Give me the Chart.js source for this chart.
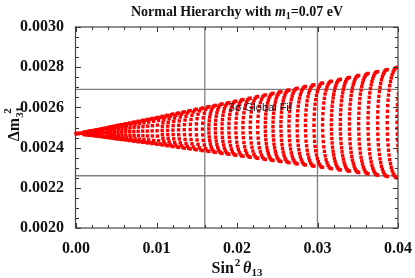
<!DOCTYPE html>
<html><head><meta charset="utf-8">
<script src="https://cdn.jsdelivr.net/npm/chart.js@4.4.1/dist/chart.umd.min.js"></script>
<style>html,body{margin:0;padding:0;background:#fff;overflow:hidden}canvas{display:block}</style>
</head><body>
<canvas id="c" width="415" height="278"></canvas>
<script>
// ---- data ----
const xTicks = [0, 0.01, 0.02, 0.03, 0.04];
const yTicks = [0.0020, 0.0022, 0.0024, 0.0026, 0.0028, 0.0030];
const globalFitSin2 = [0.016, 0.030];      // 3 sigma bounds on sin^2(theta13)
const globalFitDm2 = [0.00226, 0.00269];   // 3 sigma bounds on Delta m^2_31
const fitLabel = "3σ Global Fit";
const fitLabelAt = [0.0229, 0.002597];
// scan points [sin^2 theta13, Delta m^2_31 (eV^2)], grouped by arc
const scanPoints = [
[0,0.002470],[0.00009,0.002470],[0.00016,0.002470],[0.00025,0.002470],[0.00036,0.002470],[0.00048,0.002471],[0.00063,0.002471],
[0.00099,0.002477],[0.00080,0.002471],[0.00099,0.002465],
[0.00119,0.002478],[0.00099,0.002471],[0.00119,0.002464],
[0.00142,0.002480],[0.00119,0.002472],[0.00142,0.002463],
[0.00167,0.002482],[0.00149,0.002479],[0.00142,0.002472],[0.00149,0.002465],[0.00167,0.002462],
[0.00193,0.002484],[0.00175,0.002481],[0.00167,0.002472],[0.00175,0.002464],[0.00193,0.002461],
[0.00222,0.002486],[0.00202,0.002482],[0.00193,0.002473],[0.00202,0.002463],[0.00222,0.002459],
[0.00252,0.002489],[0.00231,0.002484],[0.00222,0.002473],[0.00231,0.002462],[0.00252,0.002457],
[0.00285,0.002491],[0.00262,0.002486],[0.00253,0.002474],[0.00262,0.002461],[0.00285,0.002456],
[0.00320,0.002494],[0.00295,0.002488],[0.00285,0.002474],[0.00295,0.002460],[0.00320,0.002454],
[0.00356,0.002497],[0.00330,0.002491],[0.00319,0.002475],[0.00330,0.002458],[0.00356,0.002452],
[0.00394,0.002500],[0.00367,0.002493],[0.00356,0.002475],[0.00367,0.002457],[0.00394,0.002450],
[0.00435,0.002504],[0.00419,0.002501],[0.00406,0.002495],[0.00397,0.002486],[0.00394,0.002476],[0.00397,0.002465],[0.00406,0.002456],[0.00419,0.002450],[0.00435,0.002448],
[0.00477,0.002507],[0.00461,0.002505],[0.00447,0.002498],[0.00438,0.002488],[0.00435,0.002476],[0.00438,0.002464],[0.00447,0.002454],[0.00461,0.002448],[0.00477,0.002445],
[0.00521,0.002511],[0.00504,0.002508],[0.00490,0.002501],[0.00480,0.002490],[0.00477,0.002477],[0.00480,0.002464],[0.00490,0.002453],[0.00504,0.002445],[0.00521,0.002443],
[0.00567,0.002514],[0.00550,0.002512],[0.00535,0.002504],[0.00525,0.002492],[0.00521,0.002477],[0.00525,0.002463],[0.00535,0.002451],[0.00550,0.002443],[0.00567,0.002440],
[0.00616,0.002518],[0.00597,0.002515],[0.00582,0.002506],[0.00571,0.002493],[0.00567,0.002478],[0.00571,0.002463],[0.00582,0.002449],[0.00597,0.002441],[0.00616,0.002438],
[0.00666,0.002522],[0.00647,0.002519],[0.00630,0.002510],[0.00619,0.002495],[0.00616,0.002479],[0.00619,0.002462],[0.00630,0.002448],[0.00647,0.002438],[0.00666,0.002435],
[0.00718,0.002527],[0.00698,0.002523],[0.00681,0.002513],[0.00670,0.002497],[0.00666,0.002479],[0.00670,0.002461],[0.00681,0.002446],[0.00698,0.002436],[0.00718,0.002432],
[0.00772,0.002531],[0.00751,0.002527],[0.00734,0.002516],[0.00722,0.002500],[0.00718,0.002480],[0.00722,0.002461],[0.00734,0.002444],[0.00751,0.002433],[0.00772,0.002429],
[0.00828,0.002536],[0.00806,0.002531],[0.00788,0.002520],[0.00776,0.002502],[0.00772,0.002481],[0.00776,0.002460],[0.00788,0.002442],[0.00806,0.002430],[0.00828,0.002426],
[0.00886,0.002540],[0.00863,0.002536],[0.00845,0.002523],[0.00832,0.002504],[0.00828,0.002482],[0.00832,0.002459],[0.00845,0.002440],[0.00863,0.002427],[0.00886,0.002423],
[0.00945,0.002545],[0.00923,0.002541],[0.00903,0.002527],[0.00890,0.002507],[0.00886,0.002482],[0.00890,0.002458],[0.00903,0.002438],[0.00923,0.002424],[0.00945,0.002420],
[0.01007,0.002550],[0.00984,0.002545],[0.00964,0.002531],[0.00950,0.002509],[0.00946,0.002483],[0.00950,0.002458],[0.00964,0.002436],[0.00984,0.002421],[0.01007,0.002416],
[0.01071,0.002556],[0.01047,0.002550],[0.01026,0.002535],[0.01012,0.002512],[0.01007,0.002484],[0.01012,0.002457],[0.01026,0.002434],[0.01047,0.002418],[0.01071,0.002413],
[0.01137,0.002561],[0.01120,0.002558],[0.01104,0.002551],[0.01090,0.002539],[0.01080,0.002523],[0.01073,0.002505],[0.01071,0.002485],[0.01073,0.002465],[0.01080,0.002447],[0.01090,0.002431],[0.01104,0.002419],[0.01120,0.002412],[0.01137,0.002409],
[0.01204,0.002567],[0.01187,0.002564],[0.01170,0.002556],[0.01156,0.002543],[0.01146,0.002526],[0.01139,0.002507],[0.01137,0.002486],[0.01139,0.002465],[0.01146,0.002446],[0.01156,0.002429],[0.01170,0.002416],[0.01187,0.002408],[0.01204,0.002405],
[0.01274,0.002572],[0.01256,0.002570],[0.01239,0.002561],[0.01225,0.002547],[0.01214,0.002530],[0.01207,0.002509],[0.01204,0.002487],[0.01207,0.002465],[0.01214,0.002444],[0.01225,0.002426],[0.01239,0.002413],[0.01256,0.002404],[0.01274,0.002401],
[0.01345,0.002578],[0.01327,0.002575],[0.01309,0.002566],[0.01295,0.002552],[0.01283,0.002533],[0.01276,0.002511],[0.01274,0.002488],[0.01276,0.002464],[0.01283,0.002443],[0.01295,0.002424],[0.01309,0.002410],[0.01327,0.002401],[0.01345,0.002397],
[0.01418,0.002584],[0.01399,0.002581],[0.01382,0.002572],[0.01367,0.002556],[0.01355,0.002537],[0.01348,0.002514],[0.01345,0.002489],[0.01348,0.002464],[0.01355,0.002441],[0.01367,0.002421],[0.01382,0.002406],[0.01399,0.002397],[0.01418,0.002393],
[0.01494,0.002591],[0.01474,0.002587],[0.01456,0.002577],[0.01441,0.002561],[0.01429,0.002540],[0.01421,0.002516],[0.01418,0.002490],[0.01421,0.002464],[0.01429,0.002440],[0.01441,0.002419],[0.01456,0.002403],[0.01474,0.002393],[0.01494,0.002389],
[0.01571,0.002597],[0.01551,0.002593],[0.01532,0.002583],[0.01516,0.002566],[0.01504,0.002544],[0.01496,0.002518],[0.01494,0.002491],[0.01496,0.002463],[0.01504,0.002438],[0.01516,0.002416],[0.01532,0.002399],[0.01551,0.002388],[0.01571,0.002385],
[0.01650,0.002604],[0.01629,0.002600],[0.01610,0.002589],[0.01594,0.002571],[0.01581,0.002548],[0.01574,0.002521],[0.01571,0.002492],[0.01574,0.002463],[0.01581,0.002436],[0.01594,0.002413],[0.01610,0.002395],[0.01629,0.002384],[0.01650,0.002381],
[0.01731,0.002610],[0.01717,0.002608],[0.01703,0.002603],[0.01690,0.002595],[0.01679,0.002583],[0.01669,0.002568],[0.01661,0.002552],[0.01655,0.002533],[0.01651,0.002513],[0.01650,0.002493],[0.01651,0.002473],[0.01655,0.002453],[0.01661,0.002435],[0.01669,0.002418],[0.01679,0.002403],[0.01690,0.002392],[0.01703,0.002383],[0.01717,0.002378],[0.01731,0.002376],
[0.01814,0.002617],[0.01799,0.002615],[0.01785,0.002610],[0.01772,0.002601],[0.01761,0.002588],[0.01750,0.002573],[0.01742,0.002556],[0.01736,0.002536],[0.01732,0.002516],[0.01731,0.002494],[0.01732,0.002473],[0.01736,0.002452],[0.01742,0.002433],[0.01750,0.002415],[0.01761,0.002400],[0.01772,0.002388],[0.01785,0.002379],[0.01799,0.002373],[0.01814,0.002371],
[0.01899,0.002624],[0.01884,0.002622],[0.01870,0.002616],[0.01856,0.002607],[0.01844,0.002594],[0.01834,0.002578],[0.01825,0.002560],[0.01819,0.002539],[0.01815,0.002518],[0.01814,0.002495],[0.01815,0.002473],[0.01819,0.002451],[0.01825,0.002431],[0.01834,0.002413],[0.01844,0.002397],[0.01856,0.002384],[0.01870,0.002374],[0.01884,0.002369],[0.01899,0.002367],
[0.01985,0.002631],[0.01970,0.002629],[0.01956,0.002623],[0.01942,0.002613],[0.01930,0.002600],[0.01919,0.002583],[0.01910,0.002564],[0.01904,0.002543],[0.01900,0.002520],[0.01899,0.002497],[0.01900,0.002473],[0.01904,0.002451],[0.01910,0.002429],[0.01919,0.002410],[0.01930,0.002393],[0.01942,0.002380],[0.01956,0.002370],[0.01970,0.002364],[0.01985,0.002362],
[0.02074,0.002639],[0.02059,0.002637],[0.02044,0.002630],[0.02030,0.002620],[0.02017,0.002606],[0.02006,0.002588],[0.01997,0.002568],[0.01991,0.002546],[0.01987,0.002522],[0.01985,0.002498],[0.01987,0.002473],[0.01991,0.002450],[0.01997,0.002427],[0.02006,0.002407],[0.02017,0.002390],[0.02030,0.002376],[0.02044,0.002365],[0.02059,0.002359],[0.02074,0.002357],
[0.02164,0.002646],[0.02149,0.002644],[0.02133,0.002637],[0.02119,0.002627],[0.02106,0.002612],[0.02095,0.002594],[0.02086,0.002573],[0.02079,0.002549],[0.02075,0.002525],[0.02074,0.002499],[0.02075,0.002473],[0.02079,0.002449],[0.02086,0.002425],[0.02095,0.002404],[0.02106,0.002386],[0.02119,0.002372],[0.02133,0.002361],[0.02149,0.002354],[0.02164,0.002352],
[0.02257,0.002654],[0.02241,0.002652],[0.02225,0.002645],[0.02211,0.002633],[0.02197,0.002618],[0.02186,0.002599],[0.02177,0.002577],[0.02170,0.002553],[0.02166,0.002527],[0.02164,0.002500],[0.02166,0.002474],[0.02170,0.002448],[0.02177,0.002423],[0.02186,0.002402],[0.02197,0.002383],[0.02211,0.002367],[0.02225,0.002356],[0.02241,0.002349],[0.02257,0.002347],
[0.02351,0.002662],[0.02335,0.002659],[0.02319,0.002652],[0.02304,0.002640],[0.02290,0.002624],[0.02279,0.002605],[0.02269,0.002582],[0.02263,0.002556],[0.02258,0.002529],[0.02257,0.002502],[0.02258,0.002474],[0.02263,0.002447],[0.02269,0.002422],[0.02279,0.002399],[0.02290,0.002379],[0.02304,0.002363],[0.02319,0.002351],[0.02335,0.002344],[0.02351,0.002341],
[0.02447,0.002670],[0.02435,0.002668],[0.02422,0.002664],[0.02410,0.002657],[0.02399,0.002647],[0.02389,0.002635],[0.02379,0.002621],[0.02371,0.002605],[0.02364,0.002586],[0.02358,0.002567],[0.02354,0.002546],[0.02352,0.002525],[0.02351,0.002503],[0.02352,0.002481],[0.02354,0.002460],[0.02358,0.002439],[0.02364,0.002419],[0.02371,0.002401],[0.02379,0.002385],[0.02389,0.002371],[0.02399,0.002358],[0.02410,0.002349],[0.02422,0.002342],[0.02435,0.002337],[0.02447,0.002336],
[0.02545,0.002678],[0.02532,0.002677],[0.02520,0.002672],[0.02508,0.002665],[0.02496,0.002655],[0.02485,0.002642],[0.02476,0.002627],[0.02467,0.002610],[0.02460,0.002591],[0.02455,0.002571],[0.02450,0.002549],[0.02448,0.002527],[0.02447,0.002504],[0.02448,0.002482],[0.02450,0.002459],[0.02455,0.002438],[0.02460,0.002417],[0.02467,0.002399],[0.02476,0.002382],[0.02485,0.002367],[0.02496,0.002354],[0.02508,0.002344],[0.02520,0.002337],[0.02532,0.002332],[0.02545,0.002331],
[0.02645,0.002686],[0.02632,0.002685],[0.02619,0.002680],[0.02607,0.002673],[0.02595,0.002662],[0.02584,0.002649],[0.02574,0.002633],[0.02566,0.002616],[0.02559,0.002596],[0.02553,0.002575],[0.02549,0.002552],[0.02546,0.002529],[0.02545,0.002506],[0.02546,0.002482],[0.02549,0.002459],[0.02553,0.002436],[0.02559,0.002415],[0.02566,0.002396],[0.02574,0.002378],[0.02584,0.002362],[0.02595,0.002349],[0.02607,0.002339],[0.02619,0.002331],[0.02632,0.002327],[0.02645,0.002325],
[0.02747,0.002695],[0.02734,0.002693],[0.02721,0.002688],[0.02708,0.002681],[0.02696,0.002670],[0.02685,0.002656],[0.02675,0.002640],[0.02666,0.002621],[0.02659,0.002601],[0.02653,0.002579],[0.02649,0.002556],[0.02646,0.002532],[0.02645,0.002507],[0.02646,0.002483],[0.02649,0.002458],[0.02653,0.002435],[0.02659,0.002413],[0.02666,0.002393],[0.02675,0.002374],[0.02685,0.002358],[0.02696,0.002344],[0.02708,0.002334],[0.02721,0.002326],[0.02734,0.002321],[0.02747,0.002319],
[0.02850,0.002704],[0.02837,0.002702],[0.02824,0.002697],[0.02811,0.002689],[0.02799,0.002677],[0.02787,0.002663],[0.02777,0.002646],[0.02768,0.002627],[0.02761,0.002606],[0.02755,0.002583],[0.02750,0.002559],[0.02748,0.002534],[0.02747,0.002509],[0.02748,0.002483],[0.02750,0.002458],[0.02755,0.002434],[0.02761,0.002411],[0.02768,0.002390],[0.02777,0.002371],[0.02787,0.002354],[0.02799,0.002340],[0.02811,0.002328],[0.02824,0.002320],[0.02837,0.002315],[0.02850,0.002314],
[0.02956,0.002712],[0.02942,0.002711],[0.02929,0.002705],[0.02916,0.002697],[0.02903,0.002685],[0.02892,0.002671],[0.02881,0.002653],[0.02872,0.002633],[0.02865,0.002611],[0.02858,0.002587],[0.02854,0.002562],[0.02851,0.002536],[0.02850,0.002510],[0.02851,0.002484],[0.02854,0.002458],[0.02858,0.002432],[0.02865,0.002409],[0.02872,0.002387],[0.02881,0.002367],[0.02892,0.002349],[0.02903,0.002335],[0.02916,0.002323],[0.02929,0.002314],[0.02942,0.002309],[0.02956,0.002308],
[0.03063,0.002721],[0.03049,0.002720],[0.03035,0.002714],[0.03022,0.002705],[0.03010,0.002693],[0.02998,0.002678],[0.02987,0.002660],[0.02978,0.002639],[0.02970,0.002616],[0.02964,0.002592],[0.02960,0.002566],[0.02957,0.002539],[0.02956,0.002511],[0.02957,0.002484],[0.02960,0.002457],[0.02964,0.002431],[0.02970,0.002406],[0.02978,0.002384],[0.02987,0.002363],[0.02998,0.002345],[0.03010,0.002330],[0.03022,0.002318],[0.03035,0.002309],[0.03049,0.002303],[0.03063,0.002302],
[0.03172,0.002730],[0.03158,0.002729],[0.03144,0.002723],[0.03131,0.002714],[0.03118,0.002701],[0.03106,0.002686],[0.03095,0.002667],[0.03086,0.002645],[0.03078,0.002622],[0.03072,0.002596],[0.03067,0.002569],[0.03064,0.002541],[0.03063,0.002513],[0.03064,0.002485],[0.03067,0.002457],[0.03072,0.002430],[0.03078,0.002404],[0.03086,0.002381],[0.03095,0.002359],[0.03106,0.002340],[0.03118,0.002325],[0.03131,0.002312],[0.03144,0.002303],[0.03158,0.002297],[0.03172,0.002295],
[0.03284,0.002740],[0.03272,0.002738],[0.03260,0.002735],[0.03249,0.002729],[0.03238,0.002720],[0.03228,0.002709],[0.03218,0.002697],[0.03209,0.002682],[0.03201,0.002665],[0.03194,0.002647],[0.03187,0.002627],[0.03182,0.002606],[0.03178,0.002584],[0.03175,0.002561],[0.03173,0.002538],[0.03172,0.002514],
[0.03173,0.002491],[0.03175,0.002468],[0.03178,0.002445],[0.03182,0.002423],[0.03187,0.002402],[0.03194,0.002382],[0.03201,0.002364],[0.03209,0.002347],[0.03218,0.002332],[0.03228,0.002319],[0.03238,0.002309],[0.03249,0.002300],[0.03260,0.002294],[0.03272,0.002290],[0.03284,0.002289],
[0.03396,0.002749],[0.03385,0.002748],[0.03373,0.002744],[0.03361,0.002738],[0.03350,0.002729],[0.03340,0.002718],[0.03330,0.002705],[0.03321,0.002689],[0.03313,0.002672],[0.03305,0.002653],[0.03299,0.002633],[0.03293,0.002611],[0.03289,0.002588],[0.03286,0.002565],[0.03284,0.002540],[0.03284,0.002516],
[0.03284,0.002492],[0.03286,0.002468],[0.03289,0.002444],[0.03293,0.002421],[0.03299,0.002399],[0.03305,0.002379],[0.03313,0.002360],[0.03321,0.002343],[0.03330,0.002327],[0.03340,0.002314],[0.03350,0.002303],[0.03361,0.002294],[0.03373,0.002288],[0.03385,0.002284],[0.03396,0.002283],
[0.03511,0.002759],[0.03499,0.002757],[0.03487,0.002753],[0.03476,0.002747],[0.03464,0.002738],[0.03454,0.002726],[0.03444,0.002713],[0.03434,0.002697],[0.03426,0.002679],[0.03418,0.002659],[0.03412,0.002638],[0.03406,0.002616],[0.03402,0.002592],[0.03399,0.002568],[0.03397,0.002543],[0.03396,0.002518],
[0.03397,0.002492],[0.03399,0.002467],[0.03402,0.002443],[0.03406,0.002419],[0.03412,0.002397],[0.03418,0.002376],[0.03426,0.002356],[0.03434,0.002338],[0.03444,0.002323],[0.03454,0.002309],[0.03464,0.002297],[0.03476,0.002288],[0.03487,0.002282],[0.03499,0.002278],[0.03511,0.002276],
[0.03628,0.002769],[0.03615,0.002767],[0.03603,0.002763],[0.03592,0.002756],[0.03580,0.002747],[0.03569,0.002735],[0.03559,0.002721],[0.03550,0.002705],[0.03541,0.002686],[0.03533,0.002666],[0.03527,0.002644],[0.03521,0.002621],[0.03517,0.002596],[0.03514,0.002571],[0.03512,0.002545],[0.03511,0.002519],
[0.03512,0.002493],[0.03514,0.002467],[0.03517,0.002442],[0.03521,0.002418],[0.03527,0.002395],[0.03533,0.002373],[0.03541,0.002352],[0.03550,0.002334],[0.03559,0.002318],[0.03569,0.002303],[0.03580,0.002292],[0.03592,0.002282],[0.03603,0.002275],[0.03615,0.002271],[0.03628,0.002270],
[0.03746,0.002778],[0.03734,0.002777],[0.03721,0.002773],[0.03709,0.002766],[0.03698,0.002756],[0.03687,0.002744],[0.03676,0.002729],[0.03667,0.002712],[0.03658,0.002693],[0.03650,0.002672],[0.03643,0.002650],[0.03638,0.002626],[0.03633,0.002600],[0.03630,0.002574],[0.03628,0.002548],[0.03628,0.002521],
[0.03628,0.002494],[0.03630,0.002467],[0.03633,0.002441],[0.03638,0.002416],[0.03643,0.002392],[0.03650,0.002369],[0.03658,0.002348],[0.03667,0.002329],[0.03676,0.002312],[0.03687,0.002298],[0.03698,0.002286],[0.03709,0.002276],[0.03721,0.002269],[0.03734,0.002265],[0.03746,0.002263],
[0.03866,0.002788],[0.03854,0.002787],[0.03841,0.002783],[0.03829,0.002775],[0.03817,0.002765],[0.03806,0.002753],[0.03795,0.002738],[0.03786,0.002720],[0.03777,0.002700],[0.03769,0.002679],[0.03762,0.002655],[0.03756,0.002631],[0.03752,0.002605],[0.03749,0.002578],[0.03747,0.002550],[0.03746,0.002522],
[0.03747,0.002495],[0.03749,0.002467],[0.03752,0.002440],[0.03756,0.002414],[0.03762,0.002389],[0.03769,0.002366],[0.03777,0.002344],[0.03786,0.002325],[0.03795,0.002307],[0.03806,0.002292],[0.03817,0.002279],[0.03829,0.002269],[0.03841,0.002262],[0.03854,0.002258],[0.03866,0.002256],
[0.03988,0.002799],[0.03975,0.002797],[0.03963,0.002793],[0.03950,0.002785],[0.03939,0.002775],[0.03927,0.002762],[0.03916,0.002746],[0.03907,0.002728],[0.03897,0.002708],[0.03889,0.002685],[0.03882,0.002661],[0.03877,0.002636],[0.03872,0.002609],[0.03869,0.002581],[0.03867,0.002553],[0.03866,0.002524],
[0.03867,0.002495],[0.03869,0.002467],[0.03872,0.002439],[0.03877,0.002413],[0.03882,0.002387],[0.03889,0.002363],[0.03897,0.002340],[0.03907,0.002320],[0.03916,0.002302],[0.03927,0.002286],[0.03939,0.002273],[0.03950,0.002263],[0.03963,0.002256],[0.03975,0.002251],[0.03988,0.002250],
[0.04005,0.002667],[0.03999,0.002641],[0.03994,0.002613],[0.03991,0.002585],[0.03989,0.002555],[0.03988,0.002526],[0.03989,0.002496],[0.03991,0.002467],[0.03994,0.002438],[0.03999,0.002411],[0.04005,0.002384]
];

// ---- styling ----
const SERIF = "'Liberation Serif','Times New Roman',serif";
const INK = '#111111';

function drawRich(ctx, parts, x, y) {
  let cx = x;
  for (const p of parts) {
    ctx.font = p.font;
    const w = ctx.measureText(p.t).width;
    ctx.fillText(p.t, cx + (p.dx || 0), y + (p.dy || 0));
    cx += (p.adv !== undefined ? p.adv : w + (p.dx || 0));
  }
  return cx - x;
}
function richWidth(ctx, parts) {
  let w = 0;
  for (const p of parts) { ctx.font = p.font; const m = ctx.measureText(p.t).width; w += (p.adv !== undefined ? p.adv : m + (p.dx || 0)); }
  return w;
}

const textPlugin = {
  id: 'texts',
  afterDatasetsDraw(chart) {
    const ctx = chart.ctx, xs = chart.scales.x, ys = chart.scales.y;
    const {left, right, top, bottom} = chart.chartArea;
    ctx.save();
    ctx.font = "11px 'Liberation Sans', Arial, sans-serif";
    ctx.fillStyle = '#1a1a2a';
    ctx.textAlign = 'center';
    ctx.textBaseline = 'middle';
    ctx.fillText(fitLabel, xs.getPixelForValue(fitLabelAt[0]), ys.getPixelForValue(fitLabelAt[1]));
    ctx.strokeStyle = '#333';
    ctx.lineWidth = 1;
    const seg = (x1, y1, x2, y2) => { ctx.beginPath(); ctx.moveTo(x1, y1); ctx.lineTo(x2, y2); ctx.stroke(); };
    const xt = (v, len) => { const p = Math.round(xs.getPixelForValue(v)) + 0.5; seg(p, bottom, p, bottom - len); seg(p, top, p, top + len); };
    const yt = (v, len) => { const p = Math.round(ys.getPixelForValue(v)) + 0.5; seg(left, p, left + len, p); seg(right, p, right - len, p); };
    for (let i = 0; i < xTicks.length; i++) {
      xt(xTicks[i], 5);
      if (i < xTicks.length - 1) { const st = (xTicks[i + 1] - xTicks[i]) / 5; for (let j = 1; j < 5; j++) xt(xTicks[i] + j * st, 3); }
    }
    for (let i = 0; i < yTicks.length; i++) {
      yt(yTicks[i], 5);
      if (i < yTicks.length - 1) { const st = (yTicks[i + 1] - yTicks[i]) / 4; for (let j = 1; j < 4; j++) yt(yTicks[i] + j * st, 3); }
    }
    ctx.strokeStyle = '#444';
    ctx.lineWidth = 1.2;
    ctx.strokeRect(left - 0.5, top, right - left + 0.5, bottom - top);
    ctx.restore();
  },
  afterDraw(chart) {
    const ctx = chart.ctx;
    const {left, right} = chart.chartArea;
    const cx = (left + right) / 2;
    ctx.save();
    ctx.fillStyle = INK;
    ctx.textAlign = 'left';
    ctx.textBaseline = 'alphabetic';
    const B14 = 'bold 14px ' + SERIF, BI14 = 'italic bold 14px ' + SERIF, B10 = 'bold 10px ' + SERIF;
    const title = [{t: 'Normal Hierarchy with ', font: B14}, {t: 'm', font: BI14}, {t: '1', font: B10, dy: 3}, {t: '=0.07 eV', font: B14}];
    drawRich(ctx, title, cx - richWidth(ctx, title) / 2, 15.5);
    const B16 = 'bold 16px ' + SERIF, BI16 = 'italic bold 16px ' + SERIF, B11 = 'bold 11px ' + SERIF;
    const xTitle = [{t: 'Sin', font: B16}, {t: '2', font: B11, dy: -7, dx: 1}, {t: ' ', font: B11}, {t: 'θ', font: BI16}, {t: '13', font: B11, dy: 3}];
    drawRich(ctx, xTitle, cx - richWidth(ctx, xTitle) / 2, 272.5);
    const yTitle = [{t: 'Δm', font: B16}, {t: '31', font: B11, dy: 4}, {t: '2', font: B11, dy: -8, dx: -7, adv: 0}];
    ctx.translate(19, 124);
    ctx.rotate(-Math.PI / 2);
    drawRich(ctx, yTitle, -richWidth(ctx, yTitle) / 2, 0);
    ctx.restore();
  }
};

const lineStyle = {showLine: true, borderColor: '#808080', borderWidth: 1.3, pointRadius: 0, order: 2, clip: 0};
const datasets = [
  {
    data: scanPoints.map(p => ({x: p[0], y: p[1]})),
    pointStyle: 'rect', pointRadius: 2.4, backgroundColor: '#ff0000', borderWidth: 0,
    order: 0, clip: {left: 3, right: 0, top: 0, bottom: 0}
  },
  ...globalFitSin2.map(v => Object.assign({data: [{x: v, y: 0.002}, {x: v, y: 0.003}]}, lineStyle)),
  ...globalFitDm2.map(v => Object.assign({data: [{x: 0, y: v}, {x: 0.04, y: v}]}, lineStyle))
];

new Chart(document.getElementById('c'), {
  type: 'scatter',
  data: {datasets},
  options: {
    responsive: false, animation: false, devicePixelRatio: 1, events: [],
    layout: {padding: {top: 27, right: 16, left: 0, bottom: 0}},
    plugins: {legend: {display: false}, tooltip: {enabled: false}, title: {display: false}},
    scales: {
      x: {
        type: 'linear', position: 'bottom', min: 0, max: 0.04,
        grid: {display: false}, border: {display: false},
        afterBuildTicks: s => { s.ticks = xTicks.map(v => ({value: v})); },
        afterFit: s => { s.height = 50; },
        ticks: {font: {family: SERIF, size: 16, weight: 'bold'}, color: INK, padding: 3, maxRotation: 0, autoSkip: false,
                callback: v => Number(v).toFixed(2)}
      },
      y: {
        type: 'linear', position: 'left', min: 0.002, max: 0.003,
        grid: {display: false}, border: {display: false},
        afterBuildTicks: s => { s.ticks = yTicks.map(v => ({value: v})); },
        afterFit: s => { s.width = 76; },
        ticks: {font: {family: SERIF, size: 16, weight: 'bold'}, color: INK, padding: 4, autoSkip: false,
                callback: v => Number(v).toFixed(4)}
      }
    }
  },
  plugins: [textPlugin]
});
</script>
</body></html>
